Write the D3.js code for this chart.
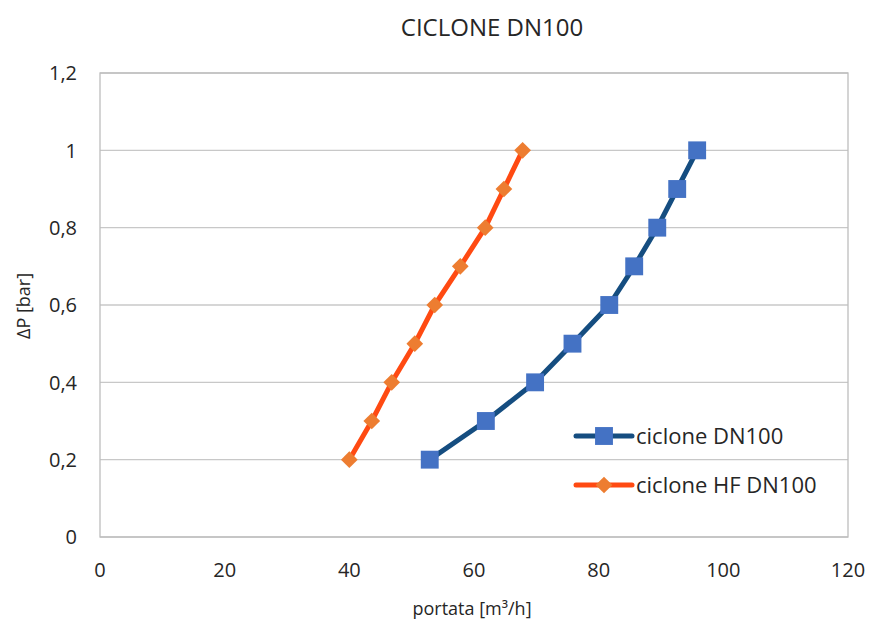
<!DOCTYPE html>
<html>
<head>
<meta charset="utf-8">
<script src="https://cdn.jsdelivr.net/npm/d3@7"></script>
<style>
  body { margin: 0; background: #fff; }
  text { font-family: "Open Sans", "Noto Sans", sans-serif; fill: #262626; }
</style>
</head>
<body>
<svg id="chart" width="872" height="625"></svg>
<script>
// data
var pressure = [0.2, 0.3, 0.4, 0.5, 0.6, 0.7, 0.8, 0.9, 1.0];
var flowDN100 = [52.9, 61.9, 69.8, 75.8, 81.7, 85.7, 89.4, 92.6, 95.8];
var flowHF = [40.0, 43.6, 46.8, 50.5, 53.7, 57.8, 61.8, 64.8, 67.8];
var xTicks = [0, 20, 40, 60, 80, 100, 120];
var yTicks = [0, 0.2, 0.4, 0.6, 0.8, 1.0, 1.2];

var svg = d3.select("#chart");
var plotL = 100, plotR = 848, plotT = 73, plotB = 537;

var x = d3.scaleLinear().domain([0, 120]).range([plotL, plotR]);
var y = d3.scaleLinear().domain([0, 1.2]).range([plotB, plotT]);

var fmt = function(d) { return String(d).replace(".", ","); };

// grid
svg.append("g")
    .selectAll("line")
    .data(yTicks)
    .enter().append("line")
    .attr("x1", plotL).attr("x2", plotR)
    .attr("y1", function(d) { return y(d); })
    .attr("y2", function(d) { return y(d); })
    .attr("stroke", "#c8c8c8")
    .attr("stroke-width", 1.3);

// plot border
svg.append("rect")
    .attr("x", plotL).attr("y", plotT)
    .attr("width", plotR - plotL).attr("height", plotB - plotT)
    .attr("fill", "none")
    .attr("stroke", "#bdbdbd")
    .attr("stroke-width", 1.3);

// y axis labels
svg.append("g")
    .selectAll("text")
    .data(yTicks)
    .enter().append("text")
    .attr("x", 77)
    .attr("y", function(d) { return y(d); })
    .attr("dy", "0.36em")
    .attr("text-anchor", "end")
    .style("font-size", "20px")
    .text(fmt);

// x axis labels
svg.append("g")
    .selectAll("text")
    .data(xTicks)
    .enter().append("text")
    .attr("x", function(d) { return x(d); })
    .attr("y", 577)
    .attr("text-anchor", "middle")
    .style("font-size", "20px")
    .text(fmt);

// title and axis titles
svg.append("text")
    .attr("x", 492).attr("y", 36)
    .attr("text-anchor", "middle")
    .style("font-size", "24px")
    .text("CICLONE DN100");

svg.append("text")
    .attr("x", 472).attr("y", 615)
    .attr("text-anchor", "middle")
    .style("font-size", "18px")
    .text("portata [m³/h]");

svg.append("text")
    .attr("transform", "translate(30,306) rotate(-90)")
    .attr("text-anchor", "middle")
    .style("font-size", "18px")
    .text("ΔP [bar]");

var series = [
  { name: "ciclone DN100", flow: flowDN100, line: "#154d80", mark: "#4472c4", size: 320, rot: 0 },
  { name: "ciclone HF DN100", flow: flowHF, line: "#ff4a12", mark: "#ed7d31", size: 140, rot: 45 }
];

var line = d3.line()
    .x(function(d) { return x(d[0]); })
    .y(function(d) { return y(d[1]); });

series.forEach(function(s) {
  var pts = s.flow.map(function(f, i) { return [f, pressure[i]]; });
  svg.append("path")
      .datum(pts)
      .attr("d", line)
      .attr("fill", "none")
      .attr("stroke", s.line)
      .attr("stroke-width", 5)
      .attr("stroke-linejoin", "round");
  svg.append("g")
      .selectAll("path")
      .data(pts)
      .enter().append("path")
      .attr("transform", function(d) {
        return "translate(" + x(d[0]) + "," + y(d[1]) + ") rotate(" + s.rot + ")";
      })
      .attr("d", d3.symbol().type(d3.symbolSquare).size(s.size))
      .attr("fill", s.mark);
});

// legend
var legend = svg.append("g")
    .selectAll("g")
    .data(series)
    .enter().append("g")
    .attr("transform", function(d, i) { return "translate(576," + (436 + i * 49) + ")"; });

legend.append("line")
    .attr("x1", 0).attr("x2", 56)
    .attr("stroke", function(d) { return d.line; })
    .attr("stroke-width", 5)
    .attr("stroke-linecap", "round");

legend.append("path")
    .attr("transform", function(d) { return "translate(28,0) rotate(" + d.rot + ")"; })
    .attr("d", function(d) { return d3.symbol().type(d3.symbolSquare).size(d.size)(); })
    .attr("fill", function(d) { return d.mark; });

legend.append("text")
    .attr("x", 60)
    .attr("dy", "0.36em")
    .style("font-size", "22px")
    .text(function(d) { return d.name; });
</script>
</body>
</html>
